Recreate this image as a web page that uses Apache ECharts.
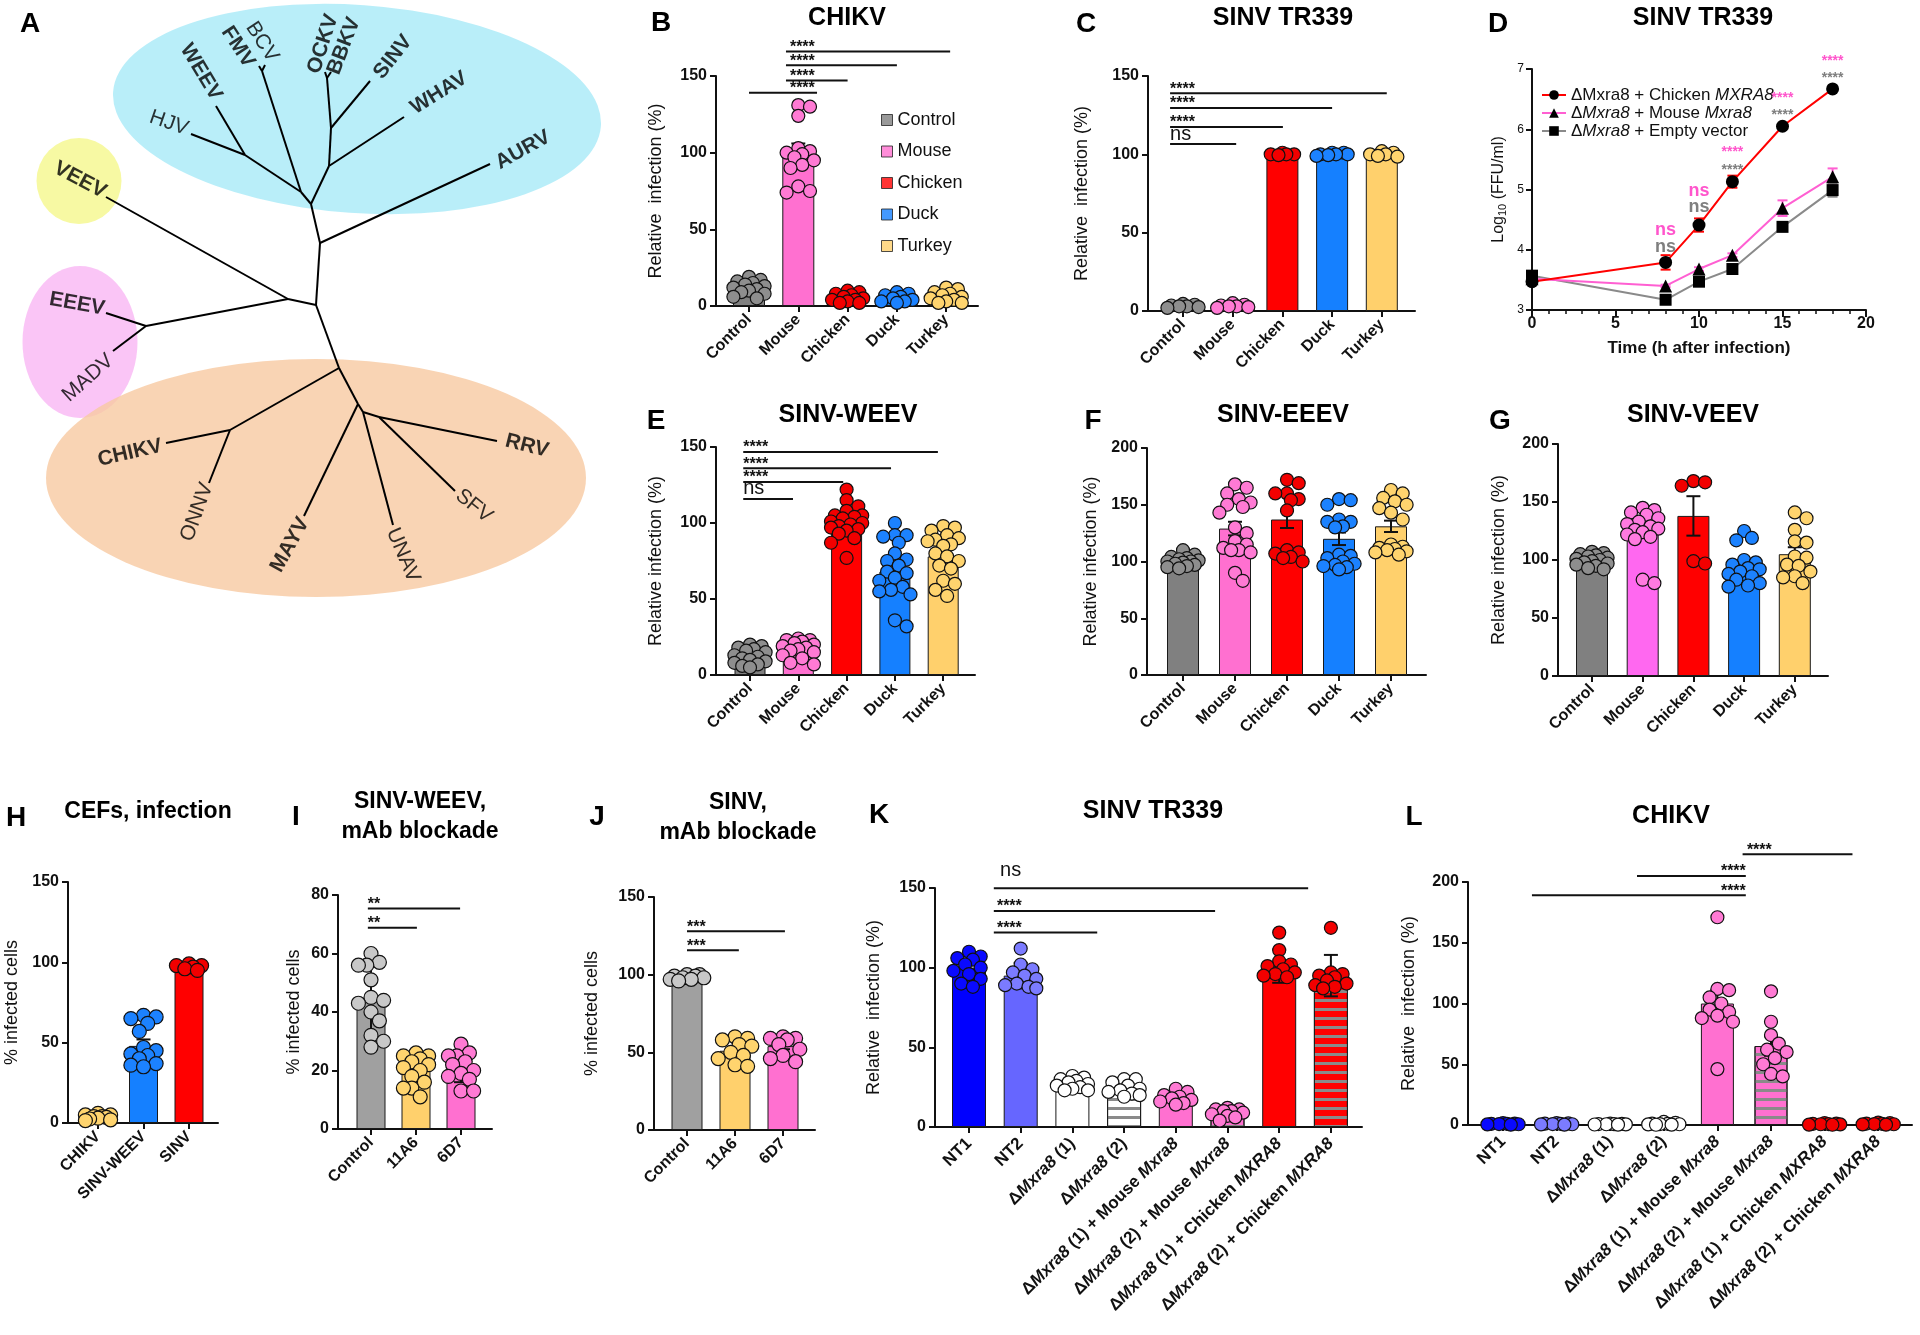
<!DOCTYPE html>
<html>
<head>
<meta charset="utf-8">
<script src="https://cdn.jsdelivr.net/npm/echarts@6/dist/echarts.min.js"></script>
<style>
  html, body { margin: 0; padding: 0; background: #fff; }
  #main { width: 1920px; height: 1335px; }
</style>
</head>
<body>
<div id="main"></div>
<script>
// ---------------- data ----------------
// A: phylogenetic tree (node positions in the drawing's own 600 x 760 space)
const treeNodes = {
  hjv: [191, 134], weev: [216, 106], hwj: [245, 155], bcv: [265, 65], fmv: [259, 66], bfj: [262, 71],
  ockv: [325, 72], bbkv: [331, 72], obj: [327, 78], sinv: [370, 81], osj: [331, 128], whav: [404, 117],
  owj: [329, 166], hbj: [301, 192], blue: [311, 204], aurv: [490, 164], auj: [320, 243], mid: [316, 305],
  veev: [106, 197], vej: [288, 299], eej: [146, 326], eeev: [106, 313], madv: [113, 351],
  orj: [339, 368], chj: [230, 430], chikv: [166, 443], onnv: [209, 483], myj: [358, 404], mayv: [304, 516],
  unj: [363, 412], unav: [393, 525], srj: [379, 417], sfv: [455, 491], rrv: [497, 441]
};
const treeEdges = [
  ['hjv', 'hwj'], ['weev', 'hwj'], ['hwj', 'hbj'], ['bcv', 'bfj'], ['fmv', 'bfj'], ['bfj', 'hbj'], ['hbj', 'blue'],
  ['ockv', 'obj'], ['bbkv', 'obj'], ['obj', 'osj'], ['sinv', 'osj'], ['osj', 'owj'], ['whav', 'owj'], ['owj', 'blue'],
  ['blue', 'auj'], ['aurv', 'auj'], ['auj', 'mid'],
  ['veev', 'vej'], ['vej', 'mid'], ['eej', 'vej'], ['eeev', 'eej'], ['madv', 'eej'],
  ['mid', 'orj'], ['orj', 'chj'], ['chj', 'chikv'], ['chj', 'onnv'], ['orj', 'myj'], ['myj', 'mayv'], ['myj', 'unj'],
  ['unj', 'unav'], ['unj', 'srj'], ['srj', 'sfv'], ['srj', 'rrv']
];
// name, x, y, angle, bold
const treeLabels = [
  ['WEEV', 201, 72, -59, 1], ['HJV', 169, 123, -19, 0], ['FMV', 238, 47, -57, 1], ['BCV', 262, 42, -57, 0],
  ['OCKV', 323, 44, 72, 1], ['BBKV', 344, 46, 69, 1], ['SINV', 393, 57, 52, 1], ['WHAV', 439, 93, 32, 1],
  ['AURV', 523, 150, 29, 1], ['VEEV', 80, 180, -28, 1], ['EEEV', 77, 304, -10, 1], ['MADV', 88, 378, 42, 0],
  ['CHIKV', 130, 453, 13, 1], ['ONNV', 197, 512, 70, 0], ['MAYV', 290, 545, 61, 1], ['UNAV', 403, 555, -67, 0],
  ['SFV', 474, 506, -39, 0], ['RRV', 527, 446, -14, 1]
];

const species = ['Control', 'Mouse', 'Chicken', 'Duck', 'Turkey'];

// B: CHIKV
const chikvMeans = [11, 100, 5, 5, 6];
const chikvSem = [1.5, 6, 1, 1, 1];
const chikvDots = [
  [19, 17, 16, 15, 14, 13, 12, 11, 10, 9, 8, 6, 5],
  [131, 130, 124, 103, 101, 100, 99, 97, 95, 92, 90, 78, 75, 74],
  [10, 9, 8, 7, 6, 5, 4, 4, 3, 2, 2],
  [9, 8, 7, 6, 5, 4, 3, 3, 2],
  [12, 11, 9, 8, 7, 6, 5, 4, 3, 2, 2]
];
const chikvSig = [[0, 1.38, 139, '****', 0.83], [0.75, 2, 147, '****', 0.83], [0.75, 3, 157, '****', 0.83], [0.75, 4.08, 166, '****', 0.83]];

// C: SINV TR339
const sinvMeans = [3, 3, 100, 100, 100];
const sinvSem = [0.4, 0.4, 0.3, 0.3, 0.3];
const sinvDots = [
  [4.5, 4, 3.5, 3, 3, 2.5, 2],
  [5, 4, 3.5, 3, 3, 2.5, 2],
  [101, 100, 100, 100, 99.5],
  [101, 101, 100, 100, 100, 99.5, 99],
  [102, 101, 100, 100, 99, 98.5]
];
const sinvSig = [[-0.26, 4.1, 139, '****', -0.26], [-0.26, 3.0, 129.6, '****', -0.26], [-0.26, 2.01, 117.5, '****', -0.26], [-0.26, 1.07, 106.6, 'ns', -0.26]];

// D: growth curve
const hours = [0, 8, 10, 12, 15, 18];
const chickenTiter = [3.47, 3.79, 4.41, 5.13, 6.05, 6.67];
const chickenErr = [0.02, 0.12, 0.11, 0.1, 0.03, 0.03];
const mouseTiter = [3.52, 3.40, 3.68, 3.91, 4.69, 5.21];
const mouseErr = [0.02, 0.02, 0.03, 0.03, 0.13, 0.14];
const emptyTiter = [3.57, 3.17, 3.47, 3.68, 4.38, 4.99];
const emptyErr = [0.02, 0.02, 0.03, 0.03, 0.03, 0.11];
// hour, height, text, comparison (0 = vs mouse, 1 = vs empty vector)
const titerSig = [
  [8, 4.33, 'ns', 0], [8, 4.05, 'ns', 1], [10, 4.98, 'ns', 0], [10, 4.71, 'ns', 1],
  [12, 5.69, '****', 0], [12, 5.39, '****', 1], [15, 6.59, '****', 0], [15, 6.30, '****', 1],
  [18, 7.20, '****', 0], [18, 6.92, '****', 1]
];

// E: SINV-WEEV
const weevMeans = [11, 17, 100, 68, 78];
const weevSem = [1, 1.3, 2.5, 5, 3.5];
const weevDots = [
  [20, 19, 18, 17, 16, 15, 13, 12, 11, 10, 9, 8, 7, 6, 5],
  [24, 23, 23, 22, 21, 20, 19, 18, 17, 16, 15, 13, 11, 8, 7],
  [122, 115, 111, 108, 105, 105, 104, 103, 101, 100, 99, 98, 97, 96, 95, 93, 90, 87, 77],
  [100, 92, 92, 91, 87, 80, 76, 75, 72, 68, 67, 64, 62, 58, 56, 55, 53, 36, 32],
  [98, 97, 95, 92, 90, 89, 88, 86, 85, 80, 78, 75, 72, 70, 62, 60, 56, 52]
];
const weevSig = [[-0.14, 3.89, 146.7, '****', -0.14], [-0.14, 2.92, 136, '****', -0.14], [-0.14, 1.93, 127, '****', -0.14], [-0.14, 0.89, 115.8, 'ns', -0.14]];

// F: SINV-EEEV
const eeevMeans = [100, 129, 137, 120, 131];
const eeevSem = [1, 6, 7.5, 5.5, 5];
const eeevDots = [
  [110, 106, 104, 103, 102, 101, 100, 100, 99, 98, 97, 96, 95, 94],
  [168, 165, 160, 155, 152, 150, 148, 143, 130, 125, 118, 115, 112, 110, 110, 108, 90, 83],
  [172, 169, 160, 160, 155, 154, 145, 110, 108, 107, 104, 103, 100],
  [155, 154, 150, 137, 135, 135, 131, 130, 106, 105, 103, 100, 98, 97, 96, 95, 93],
  [163, 160, 156, 153, 150, 147, 143, 137, 115, 113, 112, 111, 110, 109, 108, 106]
];

// G: SINV-VEEV
const veevMeans = [98, 124, 138, 94, 105];
const veevSem = [1.5, 4, 17, 5, 6];
const veevDots = [
  [107, 106, 105, 104, 103, 102, 101, 100, 99, 98, 97, 96, 95, 93, 92],
  [145, 143, 141, 139, 136, 133, 131, 129, 127, 126, 124, 122, 120, 118, 83, 80],
  [168, 167, 164, 99, 97],
  [125, 119, 117, 100, 98, 96, 93, 92, 90, 88, 86, 83, 80, 78, 77],
  [141, 136, 126, 116, 115, 103, 102, 96, 95, 90, 86, 85, 80]
];

// H: CEFs
const cefViruses = ['CHIKV', 'SINV-WEEV', 'SINV'];
const cefMeans = [3, 48, 97];
const cefSem = [0.5, 4, 0.5];
const cefDots = [
  [6, 5, 5, 4, 4, 3.5, 3, 2.5, 2, 1.5],
  [67, 66, 65, 62, 57, 47, 45, 43, 42, 40, 37, 36, 35],
  [99, 98, 98, 97, 96, 95]
];

// I, J: mAb blockade
const mabs = ['Control', '11A6', '6D7'];
const weevMabMeans = [44, 20, 21];
const weevMabSd = [11.5, 4.5, 5];
const weevMabDots = [
  [60, 57, 56, 56, 51, 45, 44, 43, 40, 37, 32, 30, 28],
  [26, 25, 25, 24, 23, 22, 21, 20, 18, 16, 14, 14, 11],
  [29, 26, 25, 25, 23, 22, 20, 19, 18, 17, 13, 13]
];
const weevMabSig = [[-0.07, 1.98, 75.4, '**', -0.07], [-0.07, 1.02, 68.8, '**', -0.07]];
const sinvMabMeans = [98, 51, 54];
const sinvMabSem = [0.6, 2.5, 2];
const sinvMabDots = [
  [100, 100, 99, 99, 98, 98, 97, 97, 96],
  [60, 59, 58, 55, 54, 50, 48, 46, 42, 41],
  [60, 59, 59, 58, 55, 52, 48, 46, 44]
];
const sinvMabSig = [[0, 2.04, 128, '***', 0], [0, 1.08, 115.7, '***', 0]];

// K, L: Mxra8 cells
const cellLines = ['NT1', 'NT2', 'ΔMxra8 (1)', 'ΔMxra8 (2)', 'ΔMxra8 (1) + Mouse Mxra8', 'ΔMxra8 (2) + Mouse Mxra8',
  'ΔMxra8 (1) + Chicken MXRA8', 'ΔMxra8 (2) + Chicken MXRA8'];
const tr339Means = [100, 95, 27, 22, 17, 9, 101, 95];
const tr339Sd = [7, 8, 3, 3, 3, 2, 10.5, 13];
const tr339Dots = [
  [110, 107, 106, 105, 102, 100, 98, 96, 93, 90, 88],
  [112, 102, 99, 97, 95, 93, 90, 89, 88, 87],
  [32, 31, 30, 29, 28, 27, 26, 25, 24, 23, 23],
  [30, 30, 28, 26, 24, 23, 22, 21, 20, 19],
  [24, 22, 20, 19, 18, 17, 16, 15, 14],
  [12, 11, 11, 10, 10, 9, 8, 7, 6, 4],
  [122, 111, 104, 102, 101, 99, 97, 96, 95, 94],
  [125, 97, 96, 95, 94, 92, 90, 89, 88, 87]
];
const tr339Sig = [[0.48, 6.56, 149.8, 'ns', 0.6], [0.48, 4.76, 135.6, '****', 0.54], [0.48, 2.48, 122, '****', 0.54]];
const chikvCellMeans = [1, 1, 0.5, 1, 100, 65, 1, 1];
const chikvCellSem = [0.2, 0.2, 0.1, 0.2, 11, 8, 0.2, 0.2];
const chikvCellDots = [
  [1.5, 1.2, 1, 1, 0.8, 0.6, 0.5, 0.3],
  [1.5, 1.3, 1.1, 1, 0.8, 0.6, 0.5, 0.3],
  [1.2, 1, 0.8, 0.7, 0.6, 0.5, 0.4, 0.3],
  [2.5, 1.8, 1.2, 1, 0.8, 0.6, 0.5, 0.3, 0.2],
  [171, 112, 111, 105, 100, 95, 93, 90, 88, 85, 46],
  [110, 85, 74, 67, 62, 60, 55, 50, 42, 40],
  [1.5, 1.2, 1, 0.8, 0.6, 0.5, 0.3, 0.2],
  [2, 1.5, 1.2, 1, 0.8, 0.6, 0.5, 0.3]
];
const chikvCellSig = [[4.47, 6.52, 222.8, '****', 4.55], [2.5, 4.53, 205, '****', 4.53], [0.54, 4.53, 189, '****', 4.53]];

// ---------------- styles ----------------
const FONT = '"Liberation Sans", Arial, Helvetica, sans-serif';
const INK = '#111';
const GREY = '#808080', PINK = '#ff70d0', RED = '#ff0000', BLUE = '#1580ff', GOLD = '#ffd06c';
const speciesBar = [GREY, PINK, RED, BLUE, GOLD];
const speciesDot = ['#8e8e8e', '#ff7ad4', '#f20000', '#1c82ff', '#ffd46e'];
const stripes = { symbol: 'rect', symbolSize: 1, dashArrayX: [1, 0], dashArrayY: [3, 6], rotation: 0, color: '#8a8a8a' };
const axisLineOpt = { show: true, onZero: false, lineStyle: { color: INK, width: 2 } };

const option = {
  animation: false,
  backgroundColor: '#fff',
  textStyle: { fontFamily: FONT },
  grid: [], xAxis: [], yAxis: [], series: [], legend: [],
  graphic: { elements: [] }
};

// beeswarm spread of dots (pixel offsets), computed from the values
function swarm(vals, pxPerVal, diam, maxHalf) {
  const order = vals.map((v, i) => i).sort((a, b) => vals[b] - vals[a]);
  const placed = [];
  const out = new Array(vals.length);
  const minD = diam * 0.8, step = diam * 0.3;
  order.forEach(i => {
    const y = vals[i] * pxPerVal;
    let best = 0, bestScore = -1;
    for (let k = 0; k <= 40; k++) {
      const dx = (k % 2 ? 1 : -1) * Math.ceil(k / 2) * step;
      if (Math.abs(dx) > maxHalf) continue;
      let md = Infinity;
      placed.forEach(p => { md = Math.min(md, Math.hypot(p[0] - dx, p[1] - y)); });
      if (md >= minD) { best = dx; break; }
      if (md > bestScore) { bestScore = md; best = dx; }
    }
    placed.push([best, y]);
    out[i] = best;
  });
  return out;
}

function errorSeries(g, items, color, cap, width, z) {
  return {
    type: 'custom', xAxisIndex: g, yAxisIndex: g, z: z || 4, silent: true, clip: false,
    data: items,
    renderItem: (params, api) => {
      const it = items[params.dataIndex];
      const lo = api.coord([it[0], it[1]]), hi = api.coord([it[0], it[2]]);
      const st = { stroke: color, lineWidth: width };
      return { type: 'group', children: [
        { type: 'line', shape: { x1: lo[0], y1: lo[1], x2: hi[0], y2: hi[1] }, style: st },
        { type: 'line', shape: { x1: hi[0] - cap, y1: hi[1], x2: hi[0] + cap, y2: hi[1] }, style: st },
        { type: 'line', shape: { x1: lo[0] - cap, y1: lo[1], x2: lo[0] + cap, y2: lo[1] }, style: st }
      ] };
    }
  };
}

function addBarPanel(p) {
  const g = option.grid.length;
  const b = p.box;
  const ticks = p.cats.map((c, i) => i);
  const pxPerVal = (b.bottom - b.top) / b.yMax;
  option.grid.push({ left: b.left, top: b.top, width: b.right - b.left, height: b.bottom - b.top, outerBoundsMode: 'none' });
  option.xAxis.push({
    gridIndex: g, type: 'value', min: (b.left - b.c0) / b.s, max: (b.right - b.c0) / b.s,
    axisLine: axisLineOpt, splitLine: { show: false },
    axisTick: { show: true, customValues: ticks, length: 6, lineStyle: { color: INK, width: 2 } },
    axisLabel: {
      show: true, customValues: ticks, rotate: 45, margin: p.labelMargin || 11, color: INK, fontSize: 16, fontWeight: 'bold',
      formatter: v => (p.labelFmt ? p.labelFmt(p.cats[Math.round(v)]) : p.cats[Math.round(v)]),
      rich: p.rich
    }
  });
  option.yAxis.push({
    gridIndex: g, type: 'value', min: 0, max: b.yMax, interval: b.yInt,
    axisLine: axisLineOpt, splitLine: { show: false },
    axisTick: { show: true, length: 6, lineStyle: { color: INK, width: 2 } },
    axisLabel: { color: INK, fontSize: 16, fontWeight: 'bold', margin: 9 },
    name: p.yName, nameLocation: 'middle', nameGap: b.nameGap,
    nameTextStyle: { fontSize: 18, color: INK }
  });
  option.series.push({
    type: 'bar', xAxisIndex: g, yAxisIndex: g, barWidth: b.barW, z: 2, silent: true,
    data: p.means.map((m, i) => {
      const st = { color: p.colors[i], borderColor: '#1a1a1a', borderWidth: 1 };
      if (p.striped && p.striped[i]) st.decal = stripes;
      return { value: [i, m], itemStyle: st };
    })
  });
  option.series.push(errorSeries(g, p.means.map((m, i) => [i, m - p.err[i], m + p.err[i]]), INK, 7, 2, 4));
  const dotData = [];
  p.dots.forEach((vals, i) => {
    const offs = swarm(vals, pxPerVal, p.dotSize || 13, b.barW / 2 + 2);
    vals.forEach((v, k) => dotData.push({ value: [i + offs[k] / b.s, v], itemStyle: { color: p.dotColors[i] } }));
  });
  option.series.push({
    type: 'scatter', xAxisIndex: g, yAxisIndex: g, z: 5, silent: true, clip: false,
    symbolSize: p.dotSize || 13, itemStyle: { borderColor: INK, borderWidth: 1.2, opacity: 1 },
    data: dotData
  });
  if (p.sig) {
    option.series.push({
      type: 'custom', xAxisIndex: g, yAxisIndex: g, z: 6, silent: true, clip: false,
      data: p.sig.map(s => [s[0], s[1], s[2]]),
      renderItem: (params, api) => {
        const s = p.sig[params.dataIndex];
        const a = api.coord([s[0], s[2]]), c = api.coord([s[1], s[2]]);
        const tx = api.coord([s[4], s[2]])[0];
        const ns = s[3] === 'ns';
        const align = (p.sigAlign && p.sigAlign[params.dataIndex]) || 'left';
        return { type: 'group', children: [
          { type: 'line', shape: { x1: a[0], y1: a[1], x2: c[0], y2: c[1] }, style: { stroke: INK, lineWidth: 2 } },
          { type: 'text', x: tx, y: a[1] - (ns ? (p.nsGap || 10) : 4),
            style: { text: s[3], fill: INK, font: ns ? `20px ${FONT}` : `bold 16px ${FONT}`,
              align: align, textAlign: align, verticalAlign: 'middle', textVerticalAlign: 'middle' } }
        ] };
      }
    });
  }
  return g;
}

// ---------------- A: tree ----------------
option.grid.push({ left: 0, top: 0, width: 600, height: 760, outerBoundsMode: 'none' });
option.xAxis.push({ gridIndex: 0, type: 'value', min: 0, max: 600, show: false });
option.yAxis.push({ gridIndex: 0, type: 'value', min: 0, max: 760, inverse: true, show: false });
option.series.push({
  type: 'scatter', xAxisIndex: 0, yAxisIndex: 0, z: 1, silent: true,
  data: [
    { value: [357, 109], symbolSize: [489, 208], symbolRotate: -4, itemStyle: { color: '#a7eaf7' } },
    { value: [79, 181], symbolSize: [85, 86], itemStyle: { color: '#f5f78c' } },
    { value: [80, 342], symbolSize: [115, 152], itemStyle: { color: '#f9b6f4' } },
    { value: [316, 478], symbolSize: [540, 238], itemStyle: { color: '#f8c9a1' } }
  ]
});
option.series.push({
  type: 'lines', coordinateSystem: 'cartesian2d', xAxisIndex: 0, yAxisIndex: 0, z: 2, silent: true,
  lineStyle: { color: '#000', width: 2, opacity: 1 },
  data: treeEdges.map(e => ({ coords: [treeNodes[e[0]], treeNodes[e[1]]] }))
});
option.series.push({
  type: 'scatter', xAxisIndex: 0, yAxisIndex: 0, z: 3, silent: true, symbolSize: 1,
  itemStyle: { color: 'rgba(0,0,0,0)' },
  data: treeLabels.map(t => ({
    value: [t[1], t[2]], name: t[0],
    label: { show: true, position: 'inside', formatter: t[0], rotate: t[3], color: '#000',
      fontSize: 21, fontWeight: t[4] ? 'bold' : 'normal' }
  }))
});

// ---------------- B ----------------
const gB = addBarPanel({
  box: { left: 716, right: 978, top: 76, bottom: 306, c0: 749, s: 49.3, barW: 32, yMax: 150, yInt: 50, nameGap: 51 },
  cats: species, means: chikvMeans, err: chikvSem, dots: chikvDots, sig: chikvSig,
  colors: speciesBar, dotColors: speciesDot, yName: 'Relative  infection (%)'
});
species.forEach((s, i) => option.series.push({
  type: 'scatter', name: s, xAxisIndex: gB, yAxisIndex: gB, data: [], itemStyle: { color: speciesBar[i] }
}));
option.legend.push({
  data: species, left: 876, top: 106, orient: 'vertical', icon: 'rect', selectedMode: false,
  itemWidth: 11, itemHeight: 11, itemGap: 13.5,
  itemStyle: { borderColor: '#222', borderWidth: 1 },
  textStyle: { fontSize: 18, color: INK, fontFamily: FONT }
});

// ---------------- C ----------------
addBarPanel({
  box: { left: 1148, right: 1415, top: 76, bottom: 311, c0: 1183, s: 49.7, barW: 32, yMax: 150, yInt: 50, nameGap: 57 },
  cats: species, means: sinvMeans, err: sinvSem, dots: sinvDots, sig: sinvSig,
  colors: speciesBar, dotColors: speciesDot, yName: 'Relative  infection (%)'
});

// ---------------- D ----------------
const gD = option.grid.length;
option.grid.push({ left: 1532, top: 69, width: 334, height: 241, outerBoundsMode: 'none' });
option.xAxis.push({
  gridIndex: gD, type: 'value', min: 0, max: 20, interval: 5,
  axisLine: axisLineOpt, splitLine: { show: false },
  axisTick: { show: true, length: 7, lineStyle: { color: INK, width: 2 } },
  minorTick: { show: true, splitNumber: 5, length: 4, lineStyle: { color: INK, width: 1.5 } },
  minorSplitLine: { show: false },
  axisLabel: { color: INK, fontSize: 16, fontWeight: 'bold', margin: 6 },
  name: 'Time (h after infection)', nameLocation: 'middle', nameGap: 30,
  nameTextStyle: { fontSize: 17, fontWeight: 'bold', color: INK }
});
option.yAxis.push({
  gridIndex: gD, type: 'value', min: 3, max: 7, interval: 1,
  axisLine: axisLineOpt, splitLine: { show: false },
  axisTick: { show: true, length: 6, lineStyle: { color: INK, width: 2 } },
  axisLabel: { color: INK, fontSize: 12, margin: 8 },
  name: '{a|Log}{s|10}{a| (FFU/ml)}', nameLocation: 'middle', nameGap: 24,
  nameTextStyle: { color: INK, rich: { a: { fontSize: 16, color: INK }, s: { fontSize: 11, color: INK, padding: [7, 0, 0, 0] } } }
});
const titerSets = [
  { name: 'chicken', vals: chickenTiter, err: chickenErr, line: '#ff0000', symbol: 'circle', size: 13 },
  { name: 'mouse', vals: mouseTiter, err: mouseErr, line: '#ff5fd2', symbol: 'triangle', size: 13 },
  { name: 'empty', vals: emptyTiter, err: emptyErr, line: '#8a8a8a', symbol: 'rect', size: 12 }
];
titerSets.forEach(t => {
  option.series.push(errorSeries(gD, hours.map((h, i) => [h, t.vals[i] - t.err[i], t.vals[i] + t.err[i]]), t.line, 5, 2, 3));
});
titerSets.slice().reverse().forEach(t => {
  option.series.push({
    type: 'line', name: t.name, xAxisIndex: gD, yAxisIndex: gD, z: 4, silent: true,
    symbol: t.symbol, symbolSize: t.size, showSymbol: true,
    lineStyle: { color: t.line, width: 2 }, itemStyle: { color: '#000', borderWidth: 0 },
    data: hours.map((h, i) => [h, t.vals[i]])
  });
});
const sigColors = ['#ff55cc', '#7f7f7f'];
option.series.push({
  type: 'custom', xAxisIndex: gD, yAxisIndex: gD, z: 6, silent: true, clip: false,
  data: titerSig.map(s => [s[0], s[1]]),
  renderItem: (params, api) => {
    const s = titerSig[params.dataIndex];
    const pt = api.coord([s[0], s[1]]);
    const ns = s[2] === 'ns';
    return { type: 'text', x: pt[0], y: pt[1] + (ns ? 0 : 4),
      style: { text: s[2], fill: sigColors[s[3]], font: ns ? `bold 18px ${FONT}` : `bold 14px ${FONT}`,
        align: 'center', textAlign: 'center', verticalAlign: 'middle', textVerticalAlign: 'middle' } };
  }
});
const titerLegend = {
  chicken: '{n|ΔMxra8 + Chicken }{i|MXRA8}',
  mouse: '{n|Δ}{i|Mxra8}{n| + Mouse }{i|Mxra8}',
  empty: '{n|Δ}{i|Mxra8}{n| + Empty vector}'
};
option.legend.push({
  data: ['chicken', 'mouse', 'empty'], left: 1536, top: 81, orient: 'vertical', selectedMode: false,
  itemWidth: 24, itemHeight: 12, itemGap: 0,
  formatter: n => titerLegend[n],
  textStyle: { fontSize: 17, color: INK, lineHeight: 18,
    rich: { n: { fontSize: 17, color: INK, lineHeight: 18 }, i: { fontSize: 17, fontStyle: 'italic', color: INK, lineHeight: 18 } } }
});

// ---------------- E, F, G ----------------
addBarPanel({
  box: { left: 716, right: 975, top: 447, bottom: 675, c0: 750, s: 48.3, barW: 31, yMax: 150, yInt: 50, nameGap: 51 },
  cats: species, means: weevMeans, err: weevSem, dots: weevDots, sig: weevSig,
  colors: speciesBar, dotColors: speciesDot, yName: 'Relative infection (%)'
});
addBarPanel({
  box: { left: 1147, right: 1426, top: 448, bottom: 675, c0: 1183, s: 52, barW: 32, yMax: 200, yInt: 50, nameGap: 47 },
  cats: species, means: eeevMeans, err: eeevSem, dots: eeevDots,
  colors: speciesBar, dotColors: speciesDot, yName: 'Relative infection (%)'
});
addBarPanel({
  box: { left: 1558, right: 1828, top: 444, bottom: 676, c0: 1592, s: 50.7, barW: 32, yMax: 200, yInt: 50, nameGap: 50 },
  cats: species, means: veevMeans, err: veevSem, dots: veevDots,
  colors: [GREY, '#ff68f0', RED, BLUE, GOLD], dotColors: ['#8e8e8e', '#ff7ae0', '#f20000', '#1c82ff', '#ffd46e'],
  yName: 'Relative infection (%)'
});

// ---------------- H, I, J ----------------
addBarPanel({
  box: { left: 68, right: 218, top: 882, bottom: 1123, c0: 98, s: 45.5, barW: 29, yMax: 150, yInt: 50, nameGap: 47 },
  cats: cefViruses, means: cefMeans, err: cefSem, dots: cefDots, dotSize: 14,
  colors: [GOLD, BLUE, RED], dotColors: ['#ffd46e', '#1c82ff', '#f20000'], yName: '% infected cells'
});
addBarPanel({
  box: { left: 338, right: 492, top: 895, bottom: 1129, c0: 371, s: 45, barW: 29, yMax: 80, yInt: 20, nameGap: 35 },
  cats: mabs, means: weevMabMeans, err: weevMabSd, dots: weevMabDots, sig: weevMabSig, dotSize: 14,
  colors: ['#a0a0a0', GOLD, PINK], dotColors: ['#c8c8c8', '#ffd46e', '#ff7ad4'], yName: '% infected cells'
});
addBarPanel({
  box: { left: 654, right: 815, top: 897, bottom: 1130, c0: 687, s: 48, barW: 31, yMax: 150, yInt: 50, nameGap: 53 },
  cats: mabs, means: sinvMabMeans, err: sinvMabSem, dots: sinvMabDots, sig: sinvMabSig, dotSize: 14,
  colors: ['#a0a0a0', GOLD, PINK], dotColors: ['#c8c8c8', '#ffd46e', '#ff7ad4'], yName: '% infected cells'
});

// ---------------- K, L ----------------
const cellRich = {
  b: { fontSize: 17, fontWeight: 'bold', color: INK },
  i: { fontSize: 17, fontWeight: 'bold', fontStyle: 'italic', color: INK }
};
const cellFmt = s => ('{b|' + s.replace(/(Mxra8|MXRA8)/g, '}{i|$1}{b|') + '}').replace(/\{b\|\}/g, '');
const cellBars = ['#0000ff', '#6666ff', '#ffffff', '#ffffff', PINK, PINK, RED, RED];
const cellDots = ['#0a0aff', '#7b7bff', '#ffffff', '#ffffff', '#ff7ad4', '#ff7ad4', '#f20000', '#f20000'];
const cellStriped = [0, 0, 0, 1, 0, 1, 0, 1];
addBarPanel({
  box: { left: 935, right: 1362, top: 888, bottom: 1127, c0: 969, s: 51.7, barW: 34, yMax: 150, yInt: 50, nameGap: 52 },
  cats: cellLines, labelFmt: cellFmt, rich: cellRich, labelMargin: 14, means: tr339Means, err: tr339Sd, dots: tr339Dots,
  sig: tr339Sig, nsGap: 18, colors: cellBars, dotColors: cellDots, striped: cellStriped,
  yName: 'Relative  infection (%)'
});
addBarPanel({
  box: { left: 1468, right: 1912, top: 882, bottom: 1125, c0: 1503, s: 53.6, barW: 33, yMax: 200, yInt: 50, nameGap: 50 },
  cats: cellLines, labelFmt: cellFmt, rich: cellRich, labelMargin: 14, means: chikvCellMeans, err: chikvCellSem, dots: chikvCellDots,
  sig: chikvCellSig, sigAlign: ['left', 'right', 'right'], colors: cellBars, dotColors: cellDots, striped: cellStriped,
  yName: 'Relative  infection (%)'
});

// ---------------- panel letters and titles ----------------
const panelLetters = [['A', 30, 24], ['B', 661, 23], ['C', 1086, 24], ['D', 1498, 24], ['E', 656, 421], ['F', 1093, 421],
  ['G', 1500, 421], ['H', 16, 818], ['I', 296, 817], ['J', 597, 817], ['K', 879, 815], ['L', 1414, 817]];
const panelTitles = [['CHIKV', 847, 18, 25], ['SINV TR339', 1283, 18, 25], ['SINV TR339', 1703, 18, 25],
  ['SINV-WEEV', 848, 415, 25], ['SINV-EEEV', 1283, 415, 25], ['SINV-VEEV', 1693, 415, 25],
  ['CEFs, infection', 148, 812, 23], ['SINV-WEEV,\nmAb blockade', 420, 817, 23], ['SINV,\nmAb blockade', 738, 818, 23],
  ['SINV TR339', 1153, 811, 25], ['CHIKV', 1671, 816, 25]];
panelLetters.forEach(l => option.graphic.elements.push({
  type: 'text', x: l[1], y: l[2], silent: true,
  style: { text: l[0], font: `bold 28px ${FONT}`, fill: '#000', align: 'center', textAlign: 'center', verticalAlign: 'middle', textVerticalAlign: 'middle' }
}));
panelTitles.forEach(t => option.graphic.elements.push({
  type: 'text', x: t[1], y: t[2], silent: true,
  style: { text: t[0], font: `bold ${t[3]}px ${FONT}`, lineHeight: 30, fill: '#000', align: 'center', textAlign: 'center', verticalAlign: 'middle', textVerticalAlign: 'middle' }
}));

const chart = echarts.init(document.getElementById('main'));
chart.setOption(option);
</script>
</body>
</html>
